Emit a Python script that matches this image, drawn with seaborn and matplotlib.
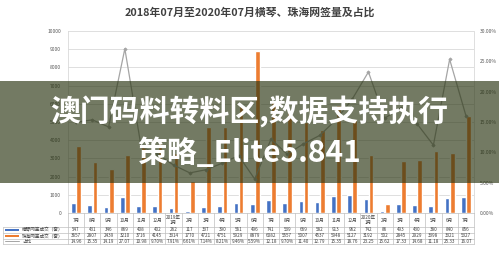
import numpy as np
import pandas as pd
import matplotlib
matplotlib.use("Agg")
import matplotlib.pyplot as plt
from matplotlib.patches import Rectangle
from matplotlib.lines import Line2D
from matplotlib.transforms import blended_transform_factory
import seaborn as sns

# ---------------- data ----------------
periods = ["2018-07", "2018-08", "2018-09", "2018-10", "2018-11", "2018-12",
           "2019-01", "2019-02", "2019-03", "2019-04", "2019-05", "2019-06",
           "2019-07", "2019-08", "2019-09", "2019-10", "2019-11", "2019-12",
           "2020-01", "2020-02", "2020-03", "2020-04", "2020-05", "2020-06",
           "2020-07"]
month_labels = ["7月", "8月", "9月", "10月", "11月", "12月", "2019年\n1月", "2月",
                "3月", "4月", "5月", "6月", "7月", "8月", "9月", "10月", "11月",
                "12月", "2020年\n1月", "2月", "3月", "4月", "5月", "6月", "7月"]
hengqin = [547, 431, 346, 869, 408, 402, 262, 117, 337, 390, 561, 496, 741,
           539, 669, 582, 913, 962, 742, 86, 493, 430, 380, 840, 856]
zhuhai = [3657, 2807, 2439, 3210, 3716, 4145, 3314, 1770, 4721, 4751, 5929,
          8879, 6082, 5557, 5007, 4537, 5948, 5127, 3192, 502, 2845, 2929,
          3398, 3321, 5327]
ratio = [14.96, 15.35, 14.19, 27.07, 10.98, 9.70, 7.91, 6.61, 7.14, 8.21,
         9.46, 5.59, 12.18, 9.70, 11.40, 12.79, 15.35, 18.76, 23.25, 15.62,
         17.33, 14.68, 11.18, 25.33, 16.07]
series_names = ["横琴网签成交（套）", "珠海网签成交（套）", "占比"]
title = "2018年07月至2020年07月横琴、珠海网签量及占比"
overlay_lines = ["澳门码料转料区,数据支持执行", "策略_Elite5.841"]

# ---------------- style ----------------
sns.set_theme(style="white")
plt.rcParams["font.family"] = ["Noto Sans CJK SC", "DejaVu Sans"]

BLUE = "#4472C4"
ORANGE = "#ED7D31"
GRAY = "#A5A5A5"
GRID = "#D9D9D9"
TXT = "#595959"

W, H = 499, 265
fig = plt.figure(figsize=(W / 100, H / 100), dpi=100)
fig.patch.set_facecolor("white")

def fy(px):
    return 1 - px / H

def fx(px):
    return px / W

ax_left, ax_right, ax_top, ax_bot = 68, 474, 31, 213
ax = fig.add_axes([fx(ax_left), fy(ax_bot), fx(ax_right - ax_left),
                   (ax_bot - ax_top) / H])

df = pd.DataFrame({
    "period": periods * 2,
    "value": hengqin + zhuhai,
    "series": [series_names[0]] * len(periods) + [series_names[1]] * len(periods),
})
sns.barplot(data=df, x="period", y="value", hue="series", order=periods,
            hue_order=series_names[:2], palette=[BLUE, ORANGE], width=0.64,
            gap=0.1, ax=ax, legend=False, saturation=1)

ax.set_xlim(-0.5, len(periods) - 0.5)
ax.set_ylim(0, 10000)
ax.set_yticks(np.arange(0, 10001, 1000))
ax.set_yticklabels([str(v) for v in range(0, 10001, 1000)])
ax.yaxis.grid(True, color=GRID, linewidth=0.6)
ax.set_axisbelow(True)
ax.tick_params(axis="y", labelsize=3.6, labelcolor=TXT, length=0, pad=5)
ax.tick_params(axis="x", length=0, labelbottom=False)
ax.set_xlabel("")
ax.set_ylabel("")
for s in ["top", "bottom"]:
    ax.spines[s].set_visible(False)
for s in ["left", "right"]:
    ax.spines[s].set_color(GRID)
    ax.spines[s].set_linewidth(0.6)

ax2 = ax.twinx()
sns.pointplot(x=periods, y=ratio, order=periods, ax=ax2, color=GRAY,
              markers="D", markersize=1.6, linewidth=0.9)
ax2.set_xlim(-0.5, len(periods) - 0.5)
ax2.set_ylim(0, 30)
ax2.set_yticks(np.arange(0, 31, 5))
ax2.set_yticklabels([f"{v:.2f}%" for v in np.arange(0, 31, 5)])
ax2.tick_params(axis="y", labelsize=3.6, labelcolor=TXT, length=0, pad=4)
ax2.set_ylabel("")
ax2.set_xlabel("")
for s in ax2.spines.values():
    s.set_visible(False)

# ---------------- data table ----------------
tr = blended_transform_factory(ax.transData, fig.transFigure)
line_kw = dict(color="#BFBFBF", linewidth=0.5)
row_lines = [227, 232.8, 238.5, 244.3]
n = len(periods)
# horizontal lines
fig.add_artist(Line2D([fx(ax_left), fx(ax_right)], [fy(ax_bot)] * 2,
                      transform=fig.transFigure, **line_kw))
for yl in row_lines:
    fig.add_artist(Line2D([fx(3), fx(ax_right)], [fy(yl)] * 2,
                          transform=fig.transFigure, **line_kw))
# vertical lines
for i in range(n + 1):
    fig.add_artist(Line2D([i - 0.5, i - 0.5], [fy(ax_bot), fy(row_lines[-1])],
                          transform=tr, **line_kw))
fig.add_artist(Line2D([fx(3), fx(3)], [fy(row_lines[0]), fy(row_lines[-1])],
                      transform=fig.transFigure, **line_kw))

tfs = 3.3
for i in range(n):
    fig.text(i, fy((ax_bot + row_lines[0]) / 2), month_labels[i], transform=tr,
             ha="center", va="center", fontsize=tfs, color="#404040",
             linespacing=1.0)
    fig.text(i, fy((row_lines[0] + row_lines[1]) / 2), str(hengqin[i]),
             transform=tr, ha="center", va="center", fontsize=tfs, color="#404040")
    fig.text(i, fy((row_lines[1] + row_lines[2]) / 2), str(zhuhai[i]),
             transform=tr, ha="center", va="center", fontsize=tfs, color="#404040")
    r = ratio[i]
    rt = f"{r:.2f}%" if r < 10 else f"{r:.2f}"
    fig.text(i, fy((row_lines[2] + row_lines[3]) / 2), rt,
             transform=tr, ha="center", va="center", fontsize=tfs, color="#404040")

# legend keys in table
for k, (col, name) in enumerate(zip([BLUE, ORANGE, GRAY], series_names)):
    yc = (row_lines[k] + row_lines[k + 1]) / 2
    if k < 2:
        fig.add_artist(Rectangle((fx(5), fy(yc + 0.9)), fx(14), 1.8 / H,
                                 transform=fig.transFigure, color=col, lw=0))
    else:
        fig.add_artist(Line2D([fx(5), fx(19)], [fy(yc)] * 2,
                              transform=fig.transFigure, color=col, lw=0.7))
    fig.text(fx(22), fy(yc), name, ha="left", va="center", fontsize=tfs,
             color="#404040")

# title
fig.text(0.5, fy(12), title, ha="center", va="center", fontsize=7.8,
         fontweight="bold", color="#404040")

# ---------------- overlay band ----------------
fig.add_artist(Rectangle((0, fy(183)), 1, (183 - 81) / H,
                         transform=fig.transFigure, color="#2a3512",
                         alpha=0.66, lw=0, zorder=10))
fig.text(0.5, fy(112), overlay_lines[0], ha="center", va="center",
         fontsize=21.5, fontweight="bold", color="white", zorder=11)
fig.text(0.5, fy(153), overlay_lines[1], ha="center", va="center",
         fontsize=21.5, fontweight="bold", color="white", zorder=11)

fig.savefig("out.png", dpi=100, facecolor="white")
